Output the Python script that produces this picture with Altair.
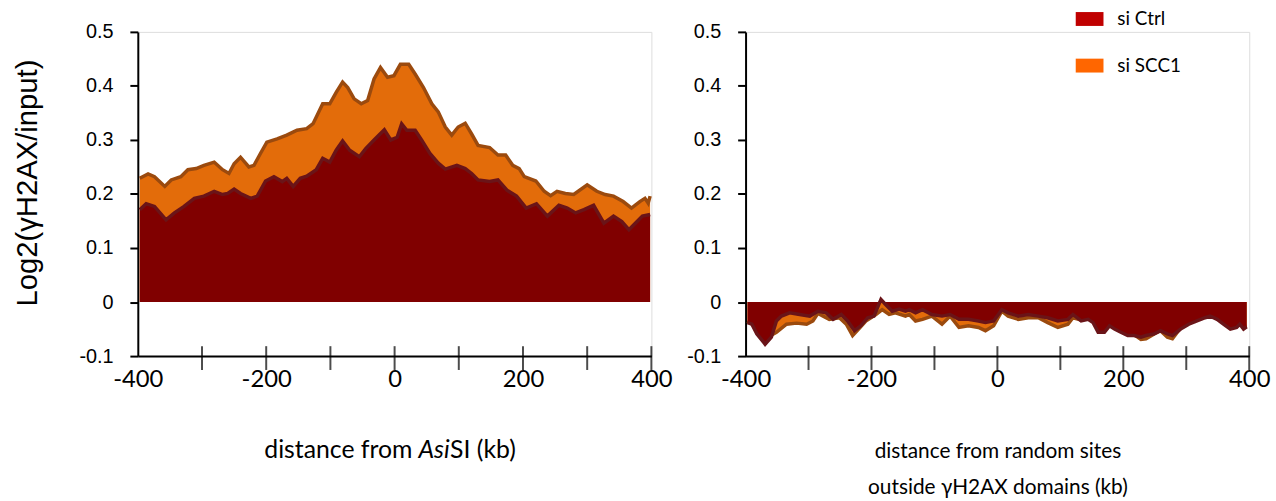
import altair as alt
import pandas as pd

# ---------------- data ----------------
# Left panel: distance from AsiSI (kb)
asisi_scc1_kb = [-397, -384, -374, -358, -348, -333, -322, -309, -297, -281, -268, -258, -250, -240, -227, -219,
                 -209, -199, -183, -168, -152, -137, -127, -112, -101, -91, -81, -73, -63, -52, -42, -32, -22,
                 -11, -1, 9, 22, 32, 45, 58, 68, 79, 89, 99, 110, 120, 130, 148, 161, 173, 184, 194, 202, 220,
                 233, 243, 253, 266, 279, 300, 315, 328, 341, 356, 369, 382, 390, 395, 398]
asisi_scc1_val = [0.229, 0.237, 0.232, 0.214, 0.226, 0.232, 0.245, 0.247, 0.253, 0.259, 0.245, 0.238, 0.256, 0.268,
                  0.250, 0.253, 0.275, 0.296, 0.302, 0.309, 0.318, 0.321, 0.330, 0.367, 0.367, 0.388, 0.407, 0.397,
                  0.376, 0.367, 0.373, 0.413, 0.434, 0.416, 0.419, 0.440, 0.440, 0.422, 0.397, 0.367, 0.352, 0.324,
                  0.309, 0.324, 0.331, 0.311, 0.290, 0.286, 0.272, 0.272, 0.253, 0.247, 0.232, 0.224, 0.205, 0.197,
                  0.205, 0.201, 0.199, 0.217, 0.205, 0.199, 0.196, 0.186, 0.174, 0.186, 0.192, 0.183, 0.196]

asisi_ctrl_kb = [-397, -387, -374, -356, -343, -328, -312, -297, -281, -268, -260, -250, -240, -224, -214, -201,
                 -188, -175, -168, -158, -147, -137, -122, -112, -101, -91, -81, -70, -55, -45, -32, -16, -6, 4,
                 11, 19, 32, 42, 55, 68, 79, 97, 110, 120, 130, 148, 161, 175, 190, 205, 221, 238, 256, 269, 282,
                 295, 310, 326, 341, 354, 365, 375, 386, 398]
asisi_ctrl_val = [0.171, 0.182, 0.177, 0.152, 0.165, 0.177, 0.192, 0.196, 0.205, 0.199, 0.201, 0.209, 0.201, 0.192,
                  0.196, 0.224, 0.232, 0.223, 0.229, 0.214, 0.229, 0.233, 0.245, 0.266, 0.259, 0.281, 0.298, 0.281,
                  0.269, 0.284, 0.300, 0.319, 0.300, 0.305, 0.330, 0.318, 0.318, 0.300, 0.275, 0.257, 0.246, 0.253,
                  0.247, 0.238, 0.226, 0.223, 0.226, 0.207, 0.196, 0.174, 0.182, 0.159, 0.179, 0.174, 0.165, 0.171,
                  0.179, 0.146, 0.159, 0.149, 0.134, 0.146, 0.159, 0.162]

# Right panel: distance from random sites outside gH2AX domains (kb)
rand_ctrl_kb = [-397, -390, -382, -369, -359, -351, -343, -330, -314, -298, -285, -272, -261, -248, -238, -227,
                -217, -206, -196, -185, -178, -167, -156, -146, -140, -130, -119, -104, -88, -75, -61, -46, -30,
                -19, -6, 7, 17, 33, 49, 65, 80, 96, 112, 120, 133, 144, 152, 160, 170, 178, 186, 196, 207, 217,
                228, 236, 249, 259, 270, 278, 291, 304, 317, 330, 338, 349, 359, 370, 380, 385, 391, 396]
rand_ctrl_val = [-0.038, -0.041, -0.059, -0.078, -0.065, -0.035, -0.026, -0.020, -0.023, -0.026, -0.017, -0.020,
                 -0.032, -0.023, -0.035, -0.053, -0.044, -0.029, -0.026, 0.005, -0.004, -0.017, -0.013, -0.017,
                 -0.014, -0.020, -0.014, -0.023, -0.026, -0.023, -0.032, -0.032, -0.035, -0.038, -0.035, -0.014,
                 -0.020, -0.026, -0.023, -0.026, -0.029, -0.035, -0.032, -0.023, -0.035, -0.032, -0.038, -0.056,
                 -0.056, -0.044, -0.050, -0.056, -0.062, -0.062, -0.065, -0.062, -0.059, -0.053, -0.059, -0.062,
                 -0.050, -0.041, -0.035, -0.029, -0.026, -0.032, -0.041, -0.050, -0.047, -0.041, -0.050, -0.046]

rand_scc1_kb = [-397, -385, -370, -360, -351, -335, -319, -303, -293, -285, -267, -251, -240, -230, -219, -209,
                -193, -183, -172, -162, -146, -140, -130, -119, -104, -88, -75, -61, -46, -30, -19, -6, 7, 17, 33,
                49, 65, 80, 96, 112, 120, 133, 144, 152, 160, 170, 178, 186, 196, 207, 217, 228, 236, 249, 259,
                270, 278, 291, 304, 317, 330, 338, 349, 359, 370, 380, 385, 391, 396]
rand_scc1_val = [-0.035, -0.045, -0.060, -0.062, -0.056, -0.041, -0.039, -0.041, -0.035, -0.021, -0.032, -0.029,
                 -0.041, -0.062, -0.048, -0.035, -0.023, -0.014, -0.023, -0.020, -0.026, -0.023, -0.035, -0.032,
                 -0.026, -0.041, -0.026, -0.047, -0.044, -0.047, -0.053, -0.044, -0.017, -0.026, -0.032, -0.029,
                 -0.029, -0.038, -0.047, -0.041, -0.029, -0.033, -0.030, -0.035, -0.050, -0.052, -0.042, -0.047,
                 -0.052, -0.058, -0.060, -0.069, -0.068, -0.059, -0.053, -0.065, -0.068, -0.048, -0.039, -0.033,
                 -0.027, -0.024, -0.030, -0.038, -0.047, -0.044, -0.039, -0.046, -0.044]

tick_kb = [-300, -200, -100, 0, 100, 200, 300, 400]
x_label_values = [-400, -200, 0, 200, 400]
y_label_values = [-0.1, 0, 0.1, 0.2, 0.3, 0.4, 0.5]

legend_names = ["si Ctrl", "si SCC1"]
legend_colors = ["#C00000", "#FF6600"]

RED_FILL = "#800000"
RED_LINE = "#6A1418"
ORANGE_FILL = "#E36C0A"
ORANGE_LINE = "#9B4A0E"

LABEL_FONT = "Lato"
Y_FONT = "Liberation Sans"

y_label_expr = ("datum.value == 0 ? '0' : (datum.value < 0 ? '-' + format(-datum.value, '.1f') "
                ": format(datum.value, '.1f'))")
x_label_expr = "datum.value < 0 ? '-' + format(-datum.value, 'd') : format(datum.value, 'd')"


def panel(ctrl_kb, ctrl_val, scc1_kb, scc1_val, width, y_title, x_title, extra_layers):
    df_c = pd.DataFrame({"kb": ctrl_kb, "value": ctrl_val})
    df_s = pd.DataFrame({"kb": scc1_kb, "value": scc1_val})
    x_axis = alt.Axis(values=x_label_values, ticks=False, grid=False, domainColor="black", domainWidth=2,
                      labelFont=LABEL_FONT, labelFontSize=24, labelColor="black", labelPadding=12,
                      labelExpr=x_label_expr, labelFlush=False,
                      title=x_title, titleFont=LABEL_FONT, titleFontSize=21, titleFontWeight="normal",
                      titleColor="black", titlePadding=49, titleLineHeight=37)
    y_axis = alt.Axis(values=y_label_values, grid=False, domainColor="black", domainWidth=2,
                      tickColor="black", tickWidth=2, tickSize=8,
                      labelFont=Y_FONT, labelFontSize=20, labelColor="black", labelPadding=17,
                      labelExpr=y_label_expr, labelFlush=False,
                      title=y_title, titleFont=Y_FONT, titleFontSize=29.5, titleFontWeight="normal",
                      titleColor="black", titlePadding=37, titleY=152)
    xs = alt.X("kb:Q", scale=alt.Scale(domain=[-400, 400], nice=False, zero=False), axis=x_axis)
    ys = alt.Y("value:Q", scale=alt.Scale(domain=[-0.1, 0.5], nice=False), axis=y_axis)
    xs2 = alt.X("kb:Q")
    ys2 = alt.Y("value:Q")
    area_s = alt.Chart(df_s).mark_area(color=ORANGE_FILL).encode(x=xs, y=ys, y2=alt.datum(0))
    line_s = alt.Chart(df_s).mark_line(color=ORANGE_LINE, strokeWidth=3.5).encode(x=xs2, y=ys2)
    area_c = alt.Chart(df_c).mark_area(color=RED_FILL).encode(x=xs2, y=ys2, y2=alt.datum(0))
    line_c = alt.Chart(df_c).mark_line(color=RED_LINE, strokeWidth=3.5).encode(x=xs2, y=ys2)
    ticks = alt.Chart(pd.DataFrame({"kb": tick_kb})).mark_tick(
        orient="vertical", size=24, thickness=2, color="black", yOffset=2
    ).encode(x=xs2, y=alt.datum(-0.1))
    return alt.layer(area_s, line_s, area_c, line_c, ticks, *extra_layers).properties(width=width, height=327)


# left x title with italic "Asi"
t_df1 = pd.DataFrame({"t": ["distance from"]})
t_df2 = pd.DataFrame({"t": ["Asi"]})
t_df3 = pd.DataFrame({"t": ["SI (kb)"]})
title_y = 422
TITLE_FS = 25
left_title = [
    alt.Chart(t_df1).mark_text(align="right", baseline="middle", font=LABEL_FONT, fontSize=TITLE_FS, color="black")
    .encode(x=alt.value(277), y=alt.value(title_y), text="t:N"),
    alt.Chart(t_df2).mark_text(align="left", baseline="middle", font=LABEL_FONT, fontSize=TITLE_FS,
                               fontStyle="italic", color="black")
    .encode(x=alt.value(283), y=alt.value(title_y), text="t:N"),
    alt.Chart(t_df3).mark_text(align="left", baseline="middle", font=LABEL_FONT, fontSize=TITLE_FS, color="black")
    .encode(x=alt.value(315), y=alt.value(title_y), text="t:N"),
]

leg_df = pd.DataFrame({"name": legend_names, "color": legend_colors, "y": [-20, 27], "y2": [-6, 41],
                       "ty": [-13, 34]})
legend_layers = [
    alt.Chart(leg_df).mark_rect().encode(
        x=alt.value(333), x2=alt.value(361), y=alt.Y("y:Q", scale=None), y2=alt.Y2("y2:Q"),
        color=alt.Color("color:N", scale=None)),
    alt.Chart(leg_df).mark_text(align="left", baseline="middle", font=LABEL_FONT, fontSize=19, color="black")
    .encode(x=alt.value(375), y=alt.Y("ty:Q", scale=None), text="name:N"),
]

left = panel(asisi_ctrl_kb, asisi_ctrl_val, asisi_scc1_kb, asisi_scc1_val, 518,
             "Log2(γH2AX/input)", None, left_title)
right = panel(rand_ctrl_kb, rand_ctrl_val, rand_scc1_kb, rand_scc1_val, 508,
              None, ["distance from random sites", "outside γH2AX domains (kb)"], legend_layers)

chart = alt.hconcat(left, right, spacing=13).properties(
    padding={"left": 12, "top": 7, "right": 5, "bottom": 0}
).configure_view(stroke=None).configure(background="white")

chart.save("out.html", embed_options={"renderer": "svg", "actions": False})
